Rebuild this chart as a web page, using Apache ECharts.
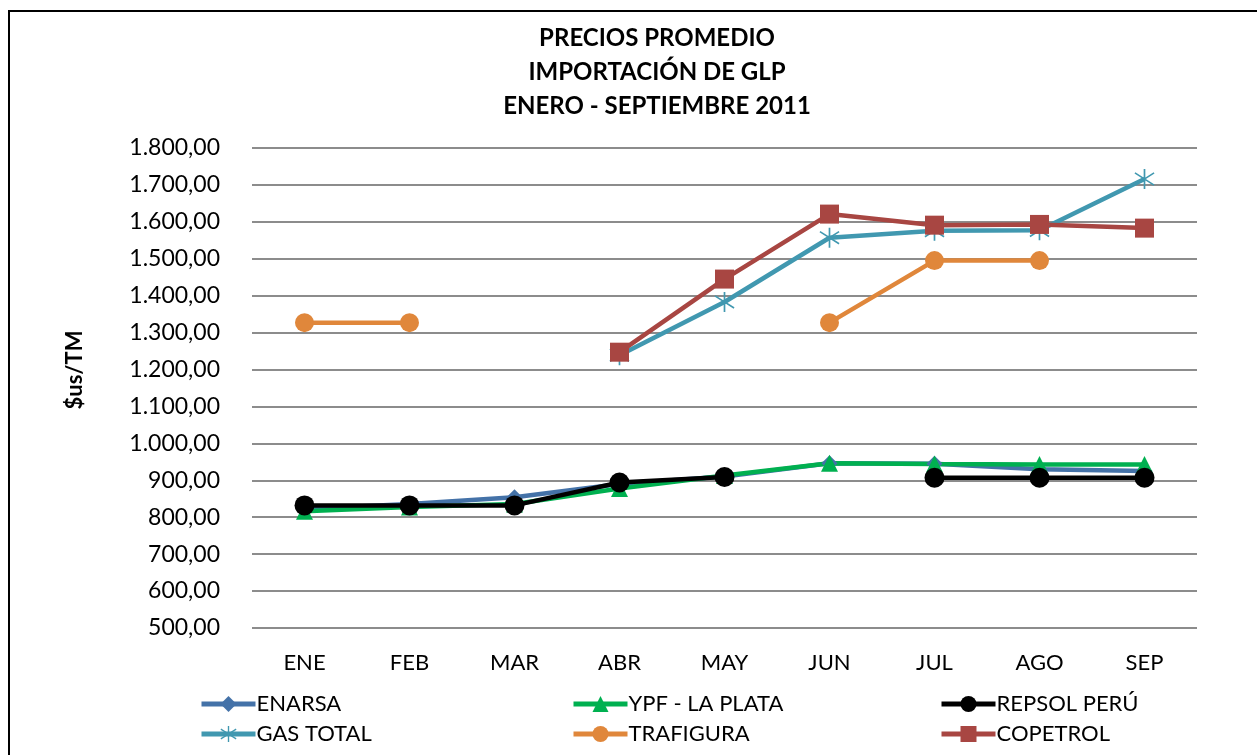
<!DOCTYPE html>
<html>
<head>
<meta charset="utf-8">
<script src="https://cdn.jsdelivr.net/npm/echarts@6/dist/echarts.min.js"></script>
<style>
  html, body { margin: 0; padding: 0; background: #fff; }
  #chart { width: 1257px; height: 755px; }
</style>
</head>
<body>
<div id="chart"></div>
<script>
// meses
var months = ['ENE', 'FEB', 'MAR', 'ABR', 'MAY', 'JUN', 'JUL', 'AGO', 'SEP']

// precios promedio $us/TM
var enarsa = [822, 836, 854, 890, 910, 946, 945, 930, 925]
var ypfLaPlata = [816, 828, 836, 878, 913, 946, 944, 943, 943]
var repsolPeru = [832, 832, 832, 894, 909, null, 907, 907, 907]
var gasTotal = [null, null, null, 1239, 1383, 1557, 1576, 1577, 1716]
var trafigura = [1327, 1327, null, null, null, 1327, 1495, 1495, null]
var copetrol = [null, null, null, 1247, 1445, 1621, 1591, 1593, 1583]

var FONT = 'Lato'

// asterisco (GAS TOTAL)
var asterisk = 'path://M9.2 0L10.8 0L10.8 20L9.2 20Z' +
  'M0.6 4.6L1.4 3.2L19.4 15.4L18.6 16.8Z' +
  'M18.6 3.2L19.4 4.6L1.4 16.8L0.6 15.4Z'

var chart = echarts.init(document.getElementById('chart'))

function mkSeries(name, data, color, symbol, size) {
  return {
    name: name,
    type: 'line',
    data: data,
    connectNulls: false,
    symbol: symbol,
    symbolSize: size,
    lineStyle: { color: color, width: 4.5 },
    itemStyle: { color: color },
    emphasis: { disabled: true },
    animation: false
  }
}

function mkLegend(name, left, top) {
  return {
    data: [name],
    left: left,
    top: top,
    itemWidth: 54,
    itemHeight: 20,
    itemGap: 4,
    lineStyle: { width: 5 },
    textStyle: { fontFamily: FONT, fontSize: 22, color: '#000', padding: [0, 0, 0, -4] }
  }
}

chart.setOption({
  backgroundColor: '#fff',
  title: {
    text: 'PRECIOS PROMEDIO\nIMPORTACIÓN DE GLP\nENERO - SEPTIEMBRE 2011',
    left: 652,
    top: 16,
    textAlign: 'center',
    textStyle: { fontFamily: FONT, fontWeight: 'bold', fontSize: 24, lineHeight: 34, color: '#000' }
  },
  graphic: [{
    type: 'rect',
    shape: { x: 9, y: 11, width: 1400, height: 900 },
    style: { fill: 'none', stroke: '#000', lineWidth: 2 },
    silent: true
  }],
  legend: [
    mkLegend('ENARSA', 194, 688),
    mkLegend('YPF - LA PLATA', 566, 688),
    mkLegend('REPSOL PERÚ', 934, 688),
    mkLegend('GAS TOTAL', 194, 718),
    mkLegend('TRAFIGURA', 566, 718),
    mkLegend('COPETROL', 934, 718)
  ],
  grid: { left: 252, right: 60, top: 148, bottom: 127, containLabel: false },
  xAxis: {
    type: 'category',
    data: months,
    boundaryGap: true,
    axisLine: { show: false },
    axisTick: { show: false },
    axisLabel: { fontFamily: FONT, fontSize: 22, color: '#000', margin: 24 }
  },
  yAxis: {
    type: 'value',
    min: 500,
    max: 1800,
    interval: 100,
    name: '$us/TM',
    nameLocation: 'middle',
    nameGap: 166,
    nameRotate: 90,
    nameTextStyle: { fontFamily: FONT, fontWeight: 'bold', fontSize: 22, color: '#000', padding: [0, 0, 0, 36] },
    axisLine: { show: false },
    axisTick: { show: false },
    splitLine: { lineStyle: { color: '#8c8c8c', width: 2 } },
    axisLabel: {
      fontFamily: FONT, fontSize: 23, color: '#000', margin: 32,
      formatter: function (v) {
        var s = String(Math.round(v))
        if (s.length > 3) s = s.slice(0, s.length - 3) + '.' + s.slice(-3)
        return s + ',00'
      }
    }
  },
  series: [
    mkSeries('ENARSA', enarsa, '#4472a8', 'diamond', 16),
    mkSeries('YPF - LA PLATA', ypfLaPlata, '#00b050', 'triangle', 17),
    mkSeries('REPSOL PERÚ', repsolPeru, '#000000', 'circle', 20),
    mkSeries('GAS TOTAL', gasTotal, '#4198b0', asterisk, 20),
    mkSeries('TRAFIGURA', trafigura, '#e0873b', 'circle', 19),
    mkSeries('COPETROL', copetrol, '#a84642', 'rect', 19)
  ]
})
</script>
</body>
</html>
